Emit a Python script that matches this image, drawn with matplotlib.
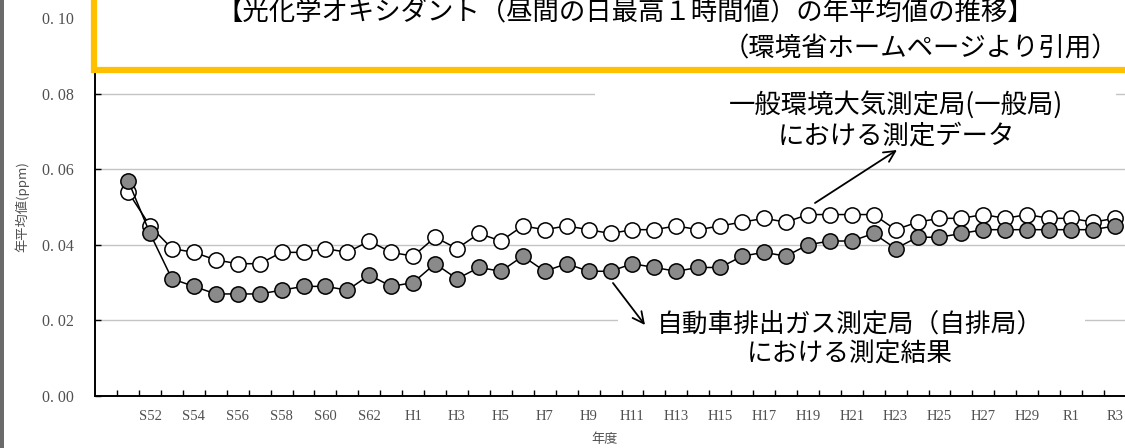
import matplotlib
matplotlib.use("Agg")
import matplotlib.pyplot as plt
from matplotlib.patches import Rectangle

# ---- data ----
years = list(range(1976, 2022))
general = [0.054, 0.045, 0.039, 0.038, 0.036, 0.035, 0.035, 0.038, 0.038, 0.039,
           0.038, 0.041, 0.038, 0.037, 0.042, 0.039, 0.043, 0.041, 0.045, 0.044,
           0.045, 0.044, 0.043, 0.044, 0.044, 0.045, 0.044, 0.045, 0.046, 0.047,
           0.046, 0.048, 0.048, 0.048, 0.048, 0.044, 0.046, 0.047, 0.047, 0.048,
           0.047, 0.048, 0.047, 0.047, 0.046, 0.047]
roadside = [0.057, 0.043, 0.031, 0.029, 0.027, 0.027, 0.027, 0.028, 0.029, 0.029,
            0.028, 0.032, 0.029, 0.030, 0.035, 0.031, 0.034, 0.033, 0.037, 0.033,
            0.035, 0.033, 0.033, 0.035, 0.034, 0.033, 0.034, 0.034, 0.037, 0.038,
            0.037, 0.040, 0.041, 0.041, 0.043, 0.039, 0.042, 0.042, 0.043, 0.044,
            0.044, 0.044, 0.044, 0.044, 0.044, 0.045]
tick_years = list(range(1977, 2022, 2))
tick_labels = ["S52", "S54", "S56", "S58", "S60", "S62", "H1", "H3", "H5", "H7",
               "H9", "H11", "H13", "H15", "H17", "H19", "H21", "H23", "H25", "H27",
               "H29", "R1", "R3"]
y_ticks = [0.00, 0.02, 0.04, 0.06, 0.08, 0.10]
y_tick_labels = ["0. 00", "0. 02", "0. 04", "0. 06", "0. 08", "0. 10"]

title1 = "【光化学オキシダント（昼間の日最高１時間値）の年平均値の推移】"
title2 = "（環境省ホームページより引用）"
label_general = "一般環境大気測定局(一般局)\nにおける測定データ"
label_roadside = "自動車排出ガス測定局（自排局）\nにおける測定結果"

JP = ["Noto Sans CJK JP", "DejaVu Sans"]
SERIF = ["Liberation Serif", "DejaVu Serif"]

W, H = 1125, 448
fig = plt.figure(figsize=(W / 100, H / 100), dpi=100)
fig.patch.set_facecolor("white")

ax = fig.add_axes([95.2 / W, (H - 396) / H, (W - 95.2) / W, 378 / H])
ax.set_xlim(1974.5, 2021.46)
ax.set_ylim(0, 0.10)

ax.plot(years, general, color="black", lw=1.1, marker="o", ms=11,
        mfc="white", mec="black", mew=1.1, zorder=3)
ax.plot(years, roadside, color="black", lw=1.1, marker="o", ms=11,
        mfc="#8a8a8a", mec="black", mew=1.1, zorder=4)

# grid
for yv in y_ticks[1:]:
    ax.axhline(yv, color="#c4c4c4", lw=1.0, zorder=1)

for s in ["top", "right"]:
    ax.spines[s].set_visible(False)
for s in ["left", "bottom"]:
    ax.spines[s].set_linewidth(1.4)
    ax.spines[s].set_color("black")

ax.set_xticks(tick_years)
ax.set_xticklabels(tick_labels, fontfamily=SERIF, fontsize=10.5, color="#505050")
ax.set_xticks([y + 0.5 for y in years[:-1]] + [1975.5], minor=True)
ax.tick_params(axis="x", which="major", length=0, pad=10)
ax.tick_params(axis="x", which="minor", direction="in", length=4, width=1)
ax.set_yticks(y_ticks)
ax.set_yticklabels(y_tick_labels, fontfamily=SERIF, fontsize=11.5, color="#505050")
ax.tick_params(axis="y", direction="in", length=4, width=1, pad=15.5)

ax.set_xlabel("年度", fontfamily=JP, fontsize=9.5, color="#505050")
ax.xaxis.set_label_coords((605 - 95.2) / (W - 95.2), -37 / 378)
fig.text(22 / W, 1 - 207 / H, "年平均値(ppm)", rotation=90, ha="center", va="center",
         fontfamily=JP, fontsize=9.5, color="#505050")

# white backgrounds behind annotation texts
def px2data(px, py):
    return (1974.5 + (px - 95.2) / 21.93, (396 - py) / 3780)

x0, y0 = px2data(595, 150)
x1, y1 = px2data(1116, 85)
ax.add_patch(Rectangle((x0, y0), x1 - x0, y1 - y0, facecolor="white",
                       edgecolor="none", zorder=2))
x0, y0 = px2data(618, 372)
x1, y1 = px2data(1085, 308)
ax.add_patch(Rectangle((x0, y0), x1 - x0, y1 - y0, facecolor="white",
                       edgecolor="none", zorder=2))

tx, ty = px2data(896, 120)
ax.text(tx, ty, label_general, ha="center", va="center", fontfamily=JP,
        fontsize=19, linespacing=1.15, zorder=5)
tx, ty = px2data(850, 340)
ax.text(tx, ty, label_roadside, ha="center", va="center", fontfamily=JP,
        fontsize=18.5, linespacing=1.15, zorder=5)

ax.annotate("", xy=px2data(897, 150), xytext=px2data(815, 203),
            arrowprops=dict(arrowstyle="->", color="black", lw=1.3,
                            mutation_scale=20, shrinkA=0, shrinkB=0), zorder=6)
ax.annotate("", xy=px2data(645, 325), xytext=px2data(613, 283),
            arrowprops=dict(arrowstyle="->", color="black", lw=1.3,
                            mutation_scale=20, shrinkA=0, shrinkB=0), zorder=6)

# title box (yellow border)
fig.add_artist(Rectangle((93.5 / W, 1 - 70 / H), 1.0, 0.3, transform=fig.transFigure,
                         facecolor="white", edgecolor="#FFC000", lw=4.5, zorder=10))
fig.text(625 / W, 1 - 13 / H, title1, ha="center", va="center", fontfamily=JP,
         fontsize=19, zorder=11)
fig.text(1118 / W, 1 - 49 / H, title2, ha="right", va="center", fontfamily=JP,
         fontsize=19, zorder=11)

# left border bar
fig.add_artist(Rectangle((0, 0), 3.5 / W, 1, transform=fig.transFigure,
                         facecolor="#6a6a6a", edgecolor="none", zorder=12))

fig.savefig("out.png", dpi=100)
